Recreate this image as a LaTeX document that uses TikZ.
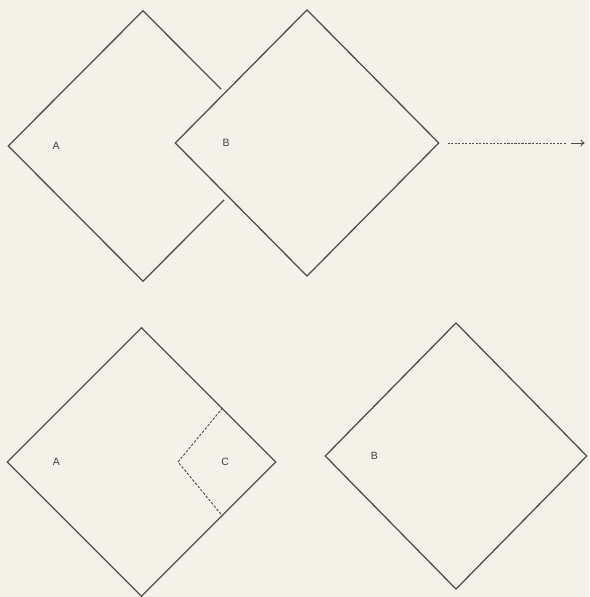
\documentclass[tikz,border=0pt]{standalone}
\usepackage{fontspec}
\setmainfont{Liberation Sans}
\usepackage{tikz}
\usetikzlibrary{positioning,arrows.meta,calc,shapes.geometric}
\definecolor{SHpaper}{HTML}{F4F2E8}
\definecolor{SHline}{HTML}{4E4E4C}
\definecolor{SHtext}{HTML}{404040}
\tikzset{
  sheet/.style={diamond, draw=SHline, line width=1.1pt, inner sep=0pt, aspect=1},
  ontop/.style={fill=SHpaper, preaction={draw=SHpaper, line width=9pt}},
  tag/.style={font=\small, text=SHtext, inner sep=1pt},
  foldline/.style={draw=SHline, line width=0.8pt, dash pattern=on 2.2pt off 1.4pt},
  moveline/.style={draw=SHline, line width=0.8pt, dash pattern=on 1.8pt off 1.2pt},
  movetip/.style={-{To[length=3.5pt,width=6pt]}, draw=SHline, line width=0.8pt}
}

\begin{document}
\begin{tikzpicture}[x=0.03cm, y=-0.03cm]
  \fill[SHpaper] (0,0) rectangle (589,597);
  \useasboundingbox (0,0) rectangle (589,597);
  % top row: B slid over A
  \node[sheet, minimum width=8.1cm, minimum height=8.13cm] (a1) at (143,146) {};
  \node[sheet, ontop, minimum width=7.92cm, minimum height=8.0cm] (b1) at (307,143) {};
  \node[tag] at ($(a1.west)!0.36!(a1.center)$) {A};
  \node[tag] at ($(b1.west)!0.39!(b1.center)$) {B};
  \coordinate (m1) at ($(b1.east)+(8,0)$);
  \coordinate (m2) at ($(b1.east)+(126,0)$);
  \coordinate (m3) at ($(b1.east)+(131,0)$);
  \coordinate (m4) at ($(b1.east)+(145,0)$);
  \draw[moveline] (m1) -- (m2);
  \draw[movetip] (m3) -- (m4);
  % bottom row: A with corner C, B apart
  \node[sheet, minimum width=8.07cm, minimum height=8.07cm] (a2) at (141.5,462) {};
  \node[sheet, minimum width=7.86cm, minimum height=8.0cm] (b2) at (456,456) {};
  \coordinate (c1) at ($(a2.north)!0.6!(a2.east)$);
  \coordinate (c2) at ($(a2.center)!0.27!(a2.east)$);
  \coordinate (c3) at ($(a2.south)!0.6!(a2.east)$);
  \draw[foldline] (c1) -- (c2) -- (c3);
  \node[tag] at ($(a2.west)!0.37!(a2.center)$) {A};
  \node[tag] at ($(a2.center)!0.62!(a2.east)$) {C};
  \node[tag] at ($(b2.west)!0.38!(b2.center)$) {B};
\end{tikzpicture}
\end{document}
